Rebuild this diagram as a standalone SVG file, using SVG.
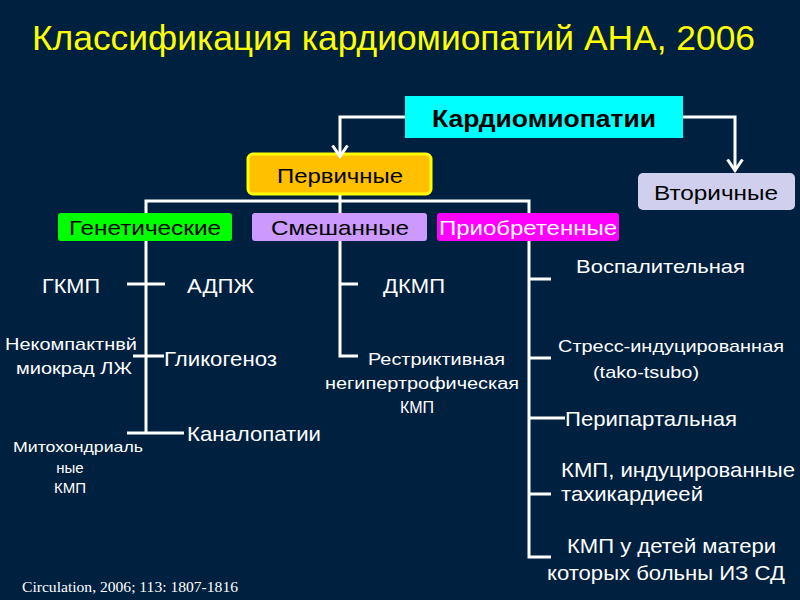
<svg xmlns="http://www.w3.org/2000/svg" width="800" height="600" viewBox="0 0 800 600">
<defs>
<marker id="arr" viewBox="0 0 14 18" refX="12.5" refY="9" markerWidth="14" markerHeight="18" markerUnits="userSpaceOnUse" orient="auto">
<path d="M1,1.5 L12,9 L1,16.5" fill="none" stroke="#fff" stroke-width="3"/>
</marker>
</defs>
<style>
text{font-family:"Liberation Sans",Arial,sans-serif;fill:#fff}
.t{fill:#ffff00;font-size:35px}
.b{fill:#000;font-size:21px}
.l{font-size:21px}
.s{font-size:16px}
.c{stroke:#fff;stroke-width:3;fill:none}
</style>
<rect width="800" height="600" fill="#00203f"/>
<text class="t" x="32" y="50" textLength="723" lengthAdjust="spacingAndGlyphs">Классификация кардиомиопатий АНА, 2006</text>

<g id="n-cardio">
<rect x="405" y="96" width="278" height="42" fill="#00ffff"/>
<text x="544" y="127" text-anchor="middle" font-weight="bold" font-size="24" style="fill:#000" textLength="224" lengthAdjust="spacingAndGlyphs">Кардиомиопатии</text>
</g>
<g id="n-primary">
<rect x="248" y="154" width="183" height="40" rx="5" fill="#ffc000" stroke="#ffff00" stroke-width="3"/>
<text class="b" x="340" y="183" text-anchor="middle" textLength="126" lengthAdjust="spacingAndGlyphs">Первичные</text>
</g>
<g id="n-secondary">
<rect x="638" y="173" width="157" height="37" rx="5" fill="#d0d0ee"/>
<text class="b" x="716" y="200" text-anchor="middle" textLength="124" lengthAdjust="spacingAndGlyphs">Вторичные</text>
</g>
<g id="n-genetic">
<rect x="58" y="213" width="174" height="28" rx="3" fill="#00ff00"/>
<text class="b" x="145" y="235" text-anchor="middle" textLength="152" lengthAdjust="spacingAndGlyphs">Генетические</text>
</g>
<g id="n-mixed">
<rect x="252" y="213" width="175" height="28" rx="3" fill="#cc99ff"/>
<text class="b" x="340" y="235" text-anchor="middle" textLength="138" lengthAdjust="spacingAndGlyphs">Смешанные</text>
</g>
<g id="n-acquired">
<rect x="437" y="213" width="182" height="28" rx="3" fill="#ff00ff"/>
<text class="b" x="528" y="235" text-anchor="middle" style="fill:#fff" textLength="178" lengthAdjust="spacingAndGlyphs">Приобретенные</text>
</g>

<g id="connectors">
<path class="c" d="M405,117 H340 V157" marker-end="url(#arr)"/>
<path class="c" d="M683,117 H735 V171" marker-end="url(#arr)"/>
<path class="c" d="M340,195 V201 M146,213 V201 H529 V213 M340,201 V213"/>
<path class="c" d="M146,241 V433 M127,284 H165 M133,356 H164 M127,433 H184"/>
<path class="c" d="M340,241 V356 H358 M340,284 H358"/>
<path class="c" d="M529,241 V557 H551 M529,279 H551 M529,358 H551 M529,418 H565 M529,494 H551"/>
</g>

<g id="genetic-items">
<text class="l" x="42" y="293" textLength="58" lengthAdjust="spacingAndGlyphs">ГКМП</text>
<text class="l" x="187" y="293" textLength="67" lengthAdjust="spacingAndGlyphs">АДПЖ</text>
<text x="5" y="350" font-size="17" textLength="132" lengthAdjust="spacingAndGlyphs">Некомпактнвй</text>
<text x="16" y="374" font-size="17" textLength="116" lengthAdjust="spacingAndGlyphs">миокрад ЛЖ</text>
<text class="l" x="164" y="366" textLength="113" lengthAdjust="spacingAndGlyphs">Гликогеноз</text>
<text class="l" x="187" y="441" textLength="134" lengthAdjust="spacingAndGlyphs">Каналопатии</text>
<text x="13" y="452" font-size="15" textLength="130" lengthAdjust="spacingAndGlyphs">Митохондриаль</text>
<text x="70" y="473" font-size="15" text-anchor="middle">ные</text>
<text x="70" y="493" font-size="15" text-anchor="middle">КМП</text>
</g>

<g id="mixed-items">
<text class="l" x="383" y="293" textLength="62" lengthAdjust="spacingAndGlyphs">ДКМП</text>
<text class="s" x="368" y="365" textLength="137" lengthAdjust="spacingAndGlyphs">Рестриктивная</text>
<text class="s" x="325" y="389" textLength="194" lengthAdjust="spacingAndGlyphs">негипертрофическая</text>
<text class="s" x="417" y="413" text-anchor="middle">КМП</text>
</g>

<g id="acquired-items">
<text x="576" y="273" font-size="19" textLength="169" lengthAdjust="spacingAndGlyphs">Воспалительная</text>
<text x="558" y="352" font-size="17" textLength="226" lengthAdjust="spacingAndGlyphs">Стресс-индуцированная</text>
<text x="593" y="378" font-size="17" textLength="106" lengthAdjust="spacingAndGlyphs">(tako-tsubo)</text>
<text class="l" x="565" y="426" textLength="172" lengthAdjust="spacingAndGlyphs">Перипартальная</text>
<text class="l" x="561" y="477" textLength="234" lengthAdjust="spacingAndGlyphs">КМП, индуцированные</text>
<text class="l" x="561" y="501" textLength="142" lengthAdjust="spacingAndGlyphs">тахикардиеей</text>
<text class="l" x="567" y="553" textLength="209" lengthAdjust="spacingAndGlyphs">КМП у детей матери</text>
<text class="l" x="547" y="580" textLength="238" lengthAdjust="spacingAndGlyphs">которых больны ИЗ СД</text>
</g>

<text x="22" y="592" font-size="14" style="font-family:'Liberation Serif',serif" textLength="216" lengthAdjust="spacingAndGlyphs">Circulation, 2006; 113: 1807-1816</text>
</svg>
